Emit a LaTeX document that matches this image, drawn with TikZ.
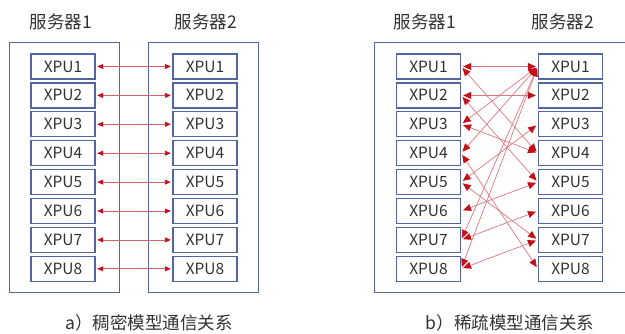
\documentclass[tikz,border=0pt]{standalone}
\usepackage{fontspec}
\setmainfont{Noto Sans CJK SC}
\usetikzlibrary{arrows.meta}
\definecolor{boxblue}{RGB}{82,102,162}
\definecolor{linkred}{RGB}{214,96,104}
\definecolor{headred}{RGB}{196,14,24}
\definecolor{txt}{RGB}{50,50,50}
\tikzset{
  server/.style={draw=boxblue, line width=1pt, inner sep=0pt},
  xpu/.style={draw=boxblue, line width=1.3pt, minimum width=64pt, minimum height=25pt,
              inner sep=0pt, text=txt, font=\fontsize{15.5}{15.5}\selectfont},
  title/.style={text=txt, font=\fontsize{17.5}{17.5}\selectfont, inner sep=0pt},
  caption/.style={text=txt, font=\fontsize{17.5}{17.5}\selectfont, inner sep=0pt},
  denselink/.style={draw=linkred, line width=0.8pt, shorten <=1.5pt, shorten >=1.5pt,
    arrows={Triangle[length=6pt,width=5pt,color=headred]-Triangle[length=6pt,width=5pt,color=headred]}},
  sparselink/.style={draw=linkred!85, line width=0.7pt, shorten <=2pt, shorten >=2pt,
    arrows={Triangle[length=8pt,width=7pt,color=headred]-Triangle[length=8pt,width=7pt,color=headred]}}
}
\begin{document}
\begin{tikzpicture}[x=1pt,y=-1pt]
\useasboundingbox (0,0) rectangle (625,333);

% ---- dense model: two servers, one-to-one links ----
\node[title] (ta1) at (61,22) {服务器1};
\node[title] (ta2) at (206,22) {服务器2};
\node[server, minimum width=110pt, minimum height=250pt] (sa1) at (64,167) {};
\node[server, minimum width=110pt, minimum height=250pt] (sa2) at (203,167) {};
\foreach \i in {1,...,8} {
  \node[xpu] (la\i) at (63,{66.5+28.9*(\i-1)}) {XPU\i};
  \node[xpu] (ra\i) at (205,{66.5+28.9*(\i-1)}) {XPU\i};
}
\foreach \i in {1,...,8} {
  \draw[denselink] (la\i.east) -- (ra\i.west);
}
\node[caption] (ca) at (149,323) {a）稠密模型通信关系};

% ---- sparse model: many-to-many links ----
\node[title] (tb1) at (425,22) {服务器1};
\node[title] (tb2) at (563,22) {服务器2};
\draw[draw=boxblue, line width=1pt] (630,42) -- (374,42) -- (374,292) -- (630,292);
\foreach \i in {1,...,8} {
  \node[xpu] (lb\i) at (428.5,{66.5+28.9*(\i-1)}) {XPU\i};
  \node[xpu] (rb\i) at (570.5,{66.5+28.9*(\i-1)}) {XPU\i};
}
\foreach \a/\b in {1/1, 2/2, 3/1, 4/1, 7/1, 8/1, 8/7, 7/6, 6/5, 5/3,
                   5/7, 1/4, 2/5, 3/4, 4/8} {
  \draw[sparselink] (lb\a.east) -- (rb\b.west);
}
\node[caption] (cb) at (510,323) {b）稀疏模型通信关系};
\end{tikzpicture}
\end{document}
